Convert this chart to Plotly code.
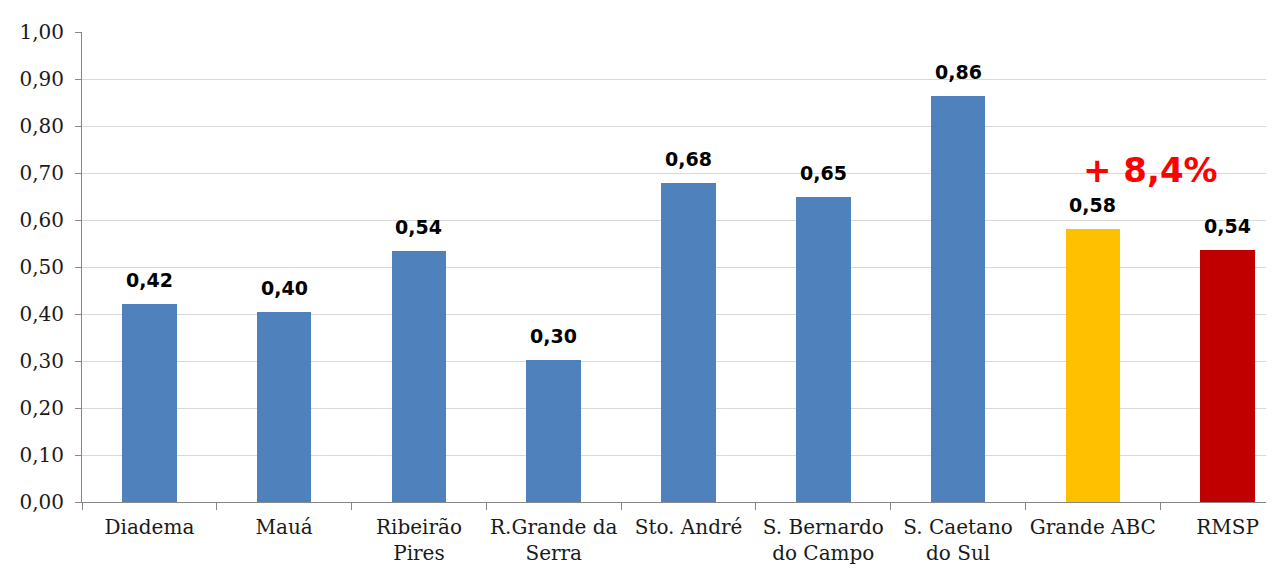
import plotly.graph_objects as go

categories = ["Diadema", "Mauá", "Ribeirão<br>Pires", "R.Grande da<br>Serra", "Sto. André",
              "S. Bernardo<br>do Campo", "S. Caetano<br>do Sul", "Grande ABC", "RMSP"]
values = [0.421, 0.404, 0.535, 0.302, 0.679, 0.648, 0.864, 0.581, 0.537]
labels = ["0,42", "0,40", "0,54", "0,30", "0,68", "0,65", "0,86", "0,58", "0,54"]
colors = ["#4F81BD"] * 7 + ["#FFC000", "#C00000"]
tick_vals = [0.0, 0.1, 0.2, 0.3, 0.4, 0.5, 0.6, 0.7, 0.8, 0.9, 1.0]
tick_text = ["0,00", "0,10", "0,20", "0,30", "0,40", "0,50", "0,60", "0,70", "0,80", "0,90", "1,00"]
growth_text = "+ 8,4%"
growth_pos = (7.43, 0.706)

x_idx = list(range(len(categories)))

fig = go.Figure()
fig.add_trace(go.Bar(
    x=x_idx, y=values, width=0.405,
    marker=dict(color=colors, line=dict(width=0)),
    hoverinfo="skip",
))

for i, (v, t) in enumerate(zip(values, labels)):
    fig.add_annotation(x=i, y=v, text="<b>" + t + "</b>", showarrow=False, yanchor="bottom", yshift=11,
                       font=dict(family="DejaVu Sans", size=19, color="#000000"),
                       xref="x", yref="y")

fig.add_annotation(x=growth_pos[0], y=growth_pos[1], text="<b>" + growth_text + "</b>",
                   showarrow=False, xref="x", yref="y",
                   font=dict(family="DejaVu Sans", size=34, color="#FF0000"))

# page body has an 8px margin, so the figure is sized/offset to compensate
fig.update_layout(
    width=1266, height=565,
    margin=dict(l=74, r=0, t=24, b=71, autoexpand=False),
    paper_bgcolor="white", plot_bgcolor="white",
    showlegend=False,
    bargap=0,
    font=dict(family="DejaVu Serif", size=20, color="#1a1a1a"),
)
fig.update_xaxes(
    range=[-0.5, 8.344],
    tickmode="array", tickvals=x_idx, ticktext=categories,
    showline=True, linecolor="#868686", linewidth=1,
    ticks="", showgrid=False, zeroline=False, automargin=False,
    ticklabelstandoff=7,
    tickfont=dict(family="DejaVu Serif", size=20, color="#1a1a1a"),
    minor=dict(tickmode="array", tickvals=[i - 0.5 for i in range(len(categories) + 1)],
               ticks="outside", ticklen=7, tickcolor="#868686", showgrid=False),
)
fig.update_yaxes(
    range=[0, 1.0],
    tickmode="array", tickvals=tick_vals, ticktext=tick_text,
    showline=True, linecolor="#868686", linewidth=1,
    ticks="outside", ticklen=6, tickcolor="#868686",
    showgrid=True, gridcolor="#D9D9D9", gridwidth=1.3, zeroline=False, automargin=False,
    ticklabelstandoff=7,
    tickfont=dict(family="DejaVu Serif", size=20, color="#1a1a1a"),
)

fig.write_html("out.html")
